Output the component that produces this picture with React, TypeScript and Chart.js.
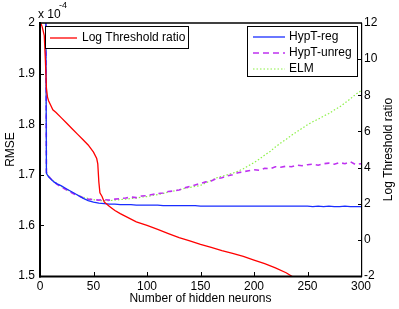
import React, { useEffect, useRef } from "react";
import { Chart, registerables } from "chart.js";

Chart.register(...registerables);

const FONT = "'Liberation Sans', Arial, Helvetica, sans-serif";

// Number of hidden neurons (x positions for the RMSE curves)
const neurons = [
  5, 6, 8, 10, 13, 16, 20, 25, 30, 35, 40, 45, 50, 55, 60, 65, 70, 75, 80, 85, 90, 95, 100,
  105, 110, 115, 120, 125, 130, 135, 140, 145, 150, 155, 160, 165, 170, 175, 180, 185, 190,
  195, 200, 205, 210, 215, 220, 225, 230, 235, 240, 245, 250, 255, 260, 265, 270, 275, 280,
  285, 290, 295, 300,
];

// RMSE values (x 1e-4)
const rmseHypTReg = [
  2.3, 1.703, 1.696, 1.692, 1.686, 1.682, 1.678, 1.672, 1.666, 1.66, 1.654, 1.649, 1.646,
  1.644, 1.643, 1.642, 1.642, 1.641, 1.641, 1.641, 1.64, 1.64, 1.64, 1.64, 1.64, 1.639, 1.639,
  1.639, 1.639, 1.639, 1.639, 1.639, 1.638, 1.638, 1.638, 1.638, 1.638, 1.638, 1.638, 1.638,
  1.638, 1.638, 1.638, 1.638, 1.638, 1.638, 1.638, 1.638, 1.638, 1.638, 1.638, 1.638, 1.638,
  1.637, 1.638, 1.637, 1.638, 1.637, 1.637, 1.638, 1.637, 1.637, 1.637,
];

const rmseHypTUnreg = [
  2.3, 1.705, 1.698, 1.692, 1.686, 1.681, 1.676, 1.67, 1.664, 1.659, 1.655, 1.652, 1.651,
  1.65, 1.651, 1.65, 1.652, 1.653, 1.654, 1.656, 1.655, 1.658, 1.659, 1.661, 1.663, 1.664,
  1.667, 1.668, 1.67, 1.674, 1.677, 1.68, 1.683, 1.686, 1.688, 1.693, 1.694, 1.698, 1.7,
  1.704, 1.706, 1.708, 1.71, 1.709, 1.713, 1.712, 1.716, 1.715, 1.717, 1.716, 1.719, 1.718,
  1.72, 1.721, 1.719, 1.722, 1.723, 1.721, 1.724, 1.722, 1.726, 1.72, 1.722,
];

const rmseELM = [
  2.3, 1.705, 1.698, 1.693, 1.687, 1.682, 1.677, 1.671, 1.665, 1.66, 1.656, 1.653, 1.651,
  1.649, 1.649, 1.649, 1.65, 1.651, 1.652, 1.653, 1.654, 1.656, 1.657, 1.659, 1.661, 1.663,
  1.666, 1.668, 1.67, 1.673, 1.675, 1.677, 1.679, 1.684, 1.689, 1.694, 1.697, 1.7, 1.703,
  1.707, 1.712, 1.718, 1.724, 1.731, 1.739, 1.746, 1.755, 1.763, 1.77, 1.778, 1.785, 1.792,
  1.799, 1.805, 1.81, 1.816, 1.821, 1.828, 1.834, 1.842, 1.85, 1.859, 1.866,
];

// Log threshold ratio (right axis)
const thresholdNeurons = [
  0, 2, 4, 5, 6, 7, 8, 10, 12, 15, 20, 25, 30, 35, 40, 45, 50, 53, 54, 55, 56, 58, 60, 65, 70,
  75, 80, 90, 100, 110, 120, 130, 140, 150, 160, 170, 180, 190, 200, 210, 220, 230, 235, 240,
  250,
];
const logThresholdRatio = [
  12.1, 11.8, 11.3, 10.0, 8.4, 7.9, 7.7, 7.45, 7.2, 7.05, 6.75, 6.45, 6.15, 5.85, 5.55, 5.25,
  4.85, 4.5, 4.2, 3.2, 2.6, 2.4, 2.1, 1.85, 1.62, 1.45, 1.3, 1.0, 0.8, 0.58, 0.35, 0.12, -0.05,
  -0.25, -0.42, -0.6, -0.75, -0.92, -1.12, -1.32, -1.55, -1.82, -2.0, -2.2, -2.6,
];

const xTickValues = [0, 50, 100, 150, 200, 250, 300];
const leftTickValues = [1.5, 1.6, 1.7, 1.8, 1.9, 2.0];
const rightTickValues = [-2, 0, 2, 4, 6, 8, 10, 12];

const BLUE = "rgb(25,45,255)";
const PURPLE = "rgb(190,50,240)";
const GREEN = "rgb(140,240,70)";
const RED = "rgb(255,0,0)";

const overlayPlugin = {
  id: "overlay",
  afterDraw(chart: any) {
    const { ctx, chartArea: a, scales } = chart;
    ctx.save();
    ctx.strokeStyle = "#000";
    ctx.setLineDash([]);

    // axes box
    ctx.lineWidth = 2;
    ctx.beginPath();
    ctx.moveTo(a.left, a.top - 1);
    ctx.lineTo(a.left, a.bottom + 1.5);
    ctx.stroke();
    ctx.beginPath();
    ctx.moveTo(a.left - 1, a.bottom + 0.5);
    ctx.lineTo(a.right + 1, a.bottom + 0.5);
    ctx.stroke();
    ctx.lineWidth = 1.6;
    ctx.beginPath();
    ctx.moveTo(a.left, a.top);
    ctx.lineTo(a.right + 1, a.top);
    ctx.stroke();
    ctx.lineWidth = 1.2;
    ctx.beginPath();
    ctx.moveTo(a.right + 0.6, a.top);
    ctx.lineTo(a.right + 0.6, a.bottom + 1);
    ctx.stroke();

    // inward ticks
    ctx.lineWidth = 1;
    xTickValues.slice(1, -1).forEach((v) => {
      const px = Math.round(scales.x.getPixelForValue(v)) + 0.5;
      ctx.beginPath();
      ctx.moveTo(px, a.bottom);
      ctx.lineTo(px, a.bottom - 4);
      ctx.stroke();
    });
    leftTickValues.slice(1, -1).forEach((v) => {
      const py = Math.round(scales.y.getPixelForValue(v)) + 0.5;
      ctx.beginPath();
      ctx.moveTo(a.left, py);
      ctx.lineTo(a.left + 4, py);
      ctx.stroke();
    });
    rightTickValues.slice(1, -1).forEach((v) => {
      const py = Math.round(scales.y1.getPixelForValue(v)) + 0.5;
      ctx.beginPath();
      ctx.moveTo(a.right + 1, py);
      ctx.lineTo(a.right - 3, py);
      ctx.stroke();
    });

    // multiplier label
    ctx.fillStyle = "#000";
    ctx.textBaseline = "middle";
    ctx.textAlign = "left";
    ctx.font = `12px ${FONT}`;
    ctx.fillText("x 10", 38, 15);
    ctx.font = `9px ${FONT}`;
    ctx.fillText("-4", 59, 6);

    // right axis title (reads bottom to top)
    ctx.save();
    ctx.font = `12px ${FONT}`;
    ctx.translate(389, (a.top + a.bottom) / 2);
    ctx.rotate(-Math.PI / 2);
    ctx.textAlign = "center";
    ctx.fillText("Log Threshold ratio", 0, 0);
    ctx.restore();

    // legends
    const drawBox = (x0: number, y0: number, x1: number, y1: number) => {
      ctx.fillStyle = "#fff";
      ctx.fillRect(x0, y0, x1 - x0, y1 - y0);
      ctx.strokeStyle = "#000";
      ctx.lineWidth = 1;
      ctx.setLineDash([]);
      ctx.strokeRect(x0, y0, x1 - x0, y1 - y0);
    };
    const drawEntry = (
      x: number,
      y: number,
      len: number,
      color: string,
      dash: number[],
      width: number,
      label: string,
      tx: number
    ) => {
      ctx.strokeStyle = color;
      ctx.lineWidth = width;
      ctx.setLineDash(dash);
      ctx.beginPath();
      ctx.moveTo(x, y);
      ctx.lineTo(x + len, y);
      ctx.stroke();
      ctx.setLineDash([]);
      ctx.fillStyle = "#000";
      ctx.font = `12px ${FONT}`;
      ctx.textAlign = "left";
      ctx.textBaseline = "middle";
      ctx.fillText(label, tx, y);
    };

    drawBox(45.5, 26.5, 188.5, 48.5);
    drawEntry(50, 38, 27, RED, [], 1.3, "Log Threshold ratio", 82);

    drawBox(247.5, 26.5, 357.5, 76.5);
    drawEntry(253, 37, 32, BLUE, [], 1.3, "HypT-reg", 289);
    drawEntry(253, 53, 32, PURPLE, [6, 4], 1.5, "HypT-unreg", 289);
    drawEntry(253, 69, 32, GREEN, [1.5, 2], 1.2, "ELM", 289);

    ctx.restore();
  },
};

export default function App() {
  const canvasRef = useRef<HTMLCanvasElement | null>(null);

  useEffect(() => {
    if (!canvasRef.current) return;
    const pts = (xs: number[], ys: number[]) => xs.map((x, i) => ({ x, y: ys[i] }));
    const tickFont = { family: FONT, size: 12 };

    const chart = new Chart(canvasRef.current, {
      type: "line",
      data: {
        datasets: [
          {
            label: "Log Threshold ratio",
            data: pts(thresholdNeurons, logThresholdRatio),
            yAxisID: "y1",
            borderColor: RED,
            borderWidth: 1.3,
            pointRadius: 0,
            tension: 0,
          },
          {
            label: "HypT-reg",
            data: pts(neurons, rmseHypTReg),
            yAxisID: "y",
            borderColor: BLUE,
            borderWidth: 1.3,
            pointRadius: 0,
            tension: 0,
          },
          {
            label: "HypT-unreg",
            data: pts(neurons, rmseHypTUnreg),
            yAxisID: "y",
            borderColor: PURPLE,
            borderWidth: 1.6,
            borderDash: [5, 4],
            pointRadius: 0,
            tension: 0,
          },
          {
            label: "ELM",
            data: pts(neurons, rmseELM),
            yAxisID: "y",
            borderColor: GREEN,
            borderWidth: 1.2,
            borderDash: [1.5, 2],
            pointRadius: 0,
            tension: 0,
          },
        ],
      },
      options: {
        animation: false,
        responsive: true,
        maintainAspectRatio: false,
        layout: { padding: { top: 23, left: 0, right: 0, bottom: 0 } },
        plugins: {
          legend: { display: false },
          tooltip: { enabled: false },
        },
        scales: {
          x: {
            type: "linear",
            min: 0,
            max: 300,
            grid: { display: false, drawTicks: false },
            border: { display: false },
            ticks: {
              stepSize: 50,
              color: "#000",
              font: tickFont,
              padding: 3,
              maxRotation: 0,
            },
            title: {
              display: true,
              text: "Number of hidden neurons",
              color: "#000",
              font: tickFont,
              padding: { top: 0, bottom: 3 },
            },
            afterFit: (s: any) => {
              s.height = 33;
            },
          },
          y: {
            type: "linear",
            position: "left",
            min: 1.5,
            max: 2,
            grid: { display: false, drawTicks: false },
            border: { display: false },
            ticks: {
              stepSize: 0.1,
              color: "#000",
              font: tickFont,
              padding: 5,
              callback: (v: any) => String(Number(Number(v).toFixed(1))),
            },
            title: {
              display: true,
              text: "RMSE",
              color: "#000",
              font: tickFont,
              padding: { top: 3, bottom: 0 },
            },
            afterFit: (s: any) => {
              s.width = 40;
            },
          },
          y1: {
            type: "linear",
            position: "right",
            min: -2,
            max: 12,
            grid: { display: false, drawTicks: false },
            border: { display: false },
            ticks: {
              stepSize: 2,
              color: "#000",
              font: tickFont,
              padding: 3,
            },
            afterFit: (s: any) => {
              s.width = 38;
            },
          },
        },
      },
      plugins: [overlayPlugin],
    } as any);

    return () => chart.destroy();
  }, []);

  return (
    <div style={{ position: "fixed", left: 0, top: 0, width: 399, height: 309, background: "#fff" }}>
      <canvas ref={canvasRef} />
    </div>
  );
}
